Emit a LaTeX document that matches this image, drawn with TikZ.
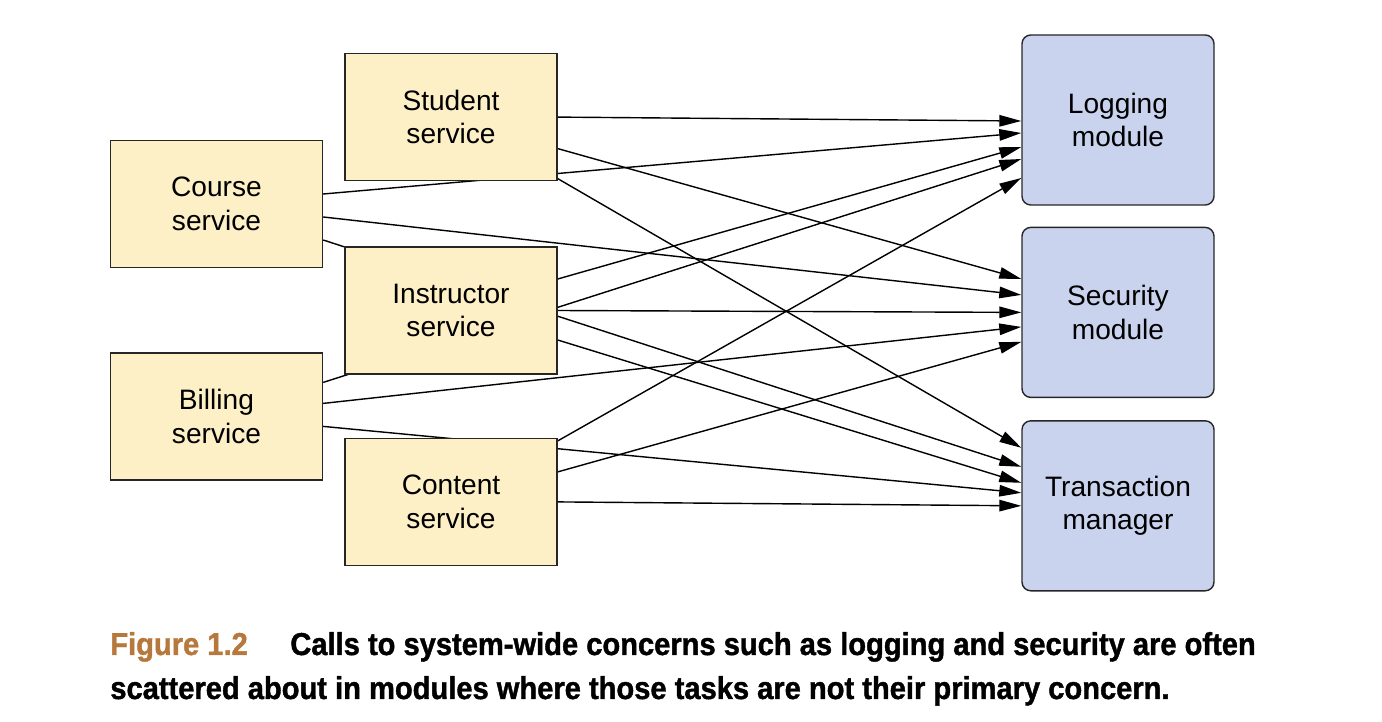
\documentclass[tikz,border=0pt]{standalone}
\usepackage{fontspec}
\setmainfont{Liberation Sans}
\newfontfamily\capfont[FakeStretch=0.92,BoldFeatures={FakeBold=1.3}]{Liberation Sans}
\usepackage{tikz}
\usetikzlibrary{arrows.meta,positioning,backgrounds}
\definecolor{svcyellow}{HTML}{FDEFC6}
\definecolor{modblue}{HTML}{C9D3EE}
\definecolor{figbrown}{HTML}{B6783C}

\begin{document}
\begin{tikzpicture}[
  svc/.style={draw=black!85,rectangle,line width=0.8pt,fill=svcyellow,
              minimum width=4.24cm,minimum height=2.54cm,align=center,
              font=\fontsize{16}{19}\selectfont},
  modl/.style={draw=black!85,rectangle,rounded corners=5pt,line width=0.8pt,fill=modblue,
               minimum width=3.84cm,minimum height=3.4cm,align=center,
               font=\fontsize{16}{19}\selectfont},
  call/.style={draw,line width=0.8pt,-{Triangle[length=0.44cm,width=0.23cm]}},
  capline/.style={anchor=base west,inner sep=0pt,font=\capfont\bfseries\fontsize{18}{21}\selectfont},
]
  \useasboundingbox (0,0) rectangle (27.64,-14.44);

  % Services
  \node[svc] (ins) at (9.02,-6.21) {Instructor\\service};
  \node[svc,above=1.3cm of ins]  (stu) {Student\\service};
  \node[svc,below=1.26cm of ins] (cnt) {Content\\service};
  \node[svc] (crs) at (4.33,-4.08) {Course\\service};
  \node[svc,below=1.68cm of crs] (bil) {Billing\\service};

  % Modules
  \node[modl] (log) at (22.36,-2.40) {Logging\\module};
  \node[modl,below=0.42cm of log] (sec) {Security\\module};
  \node[modl,below=0.44cm of sec] (trn) {Transaction\\manager};

  % Calls (behind the boxes)
  \begin{scope}[on background layer]
    \draw[call] (stu.east) -- ([yshift=-0.02cm]log.west);
    \draw[call] ([yshift=-0.63cm]stu.east) -- ([yshift=0.67cm]sec.west);
    \draw[call] ([yshift=-1.23cm]stu.east) -- ([yshift=1.16cm]trn.west);

    \draw[call] ([yshift=0.2cm]crs.east) -- ([yshift=-0.26cm]log.west);
    \draw[call] ([yshift=-0.26cm]crs.east) -- ([yshift=0.35cm]sec.west);
    \draw[call] ([yshift=-0.72cm]crs.east) -- ([yshift=0.78cm]trn.west);

    \draw[call] ([yshift=0.63cm]ins.east) -- ([yshift=-0.54cm]log.west);
    \draw[call] (ins.east) -- (sec.west);
    \draw[call] ([yshift=-0.59cm]ins.east) -- ([yshift=0.46cm]trn.west);

    \draw[call] ([yshift=0.68cm]bil.east) -- ([yshift=-0.78cm]log.west);
    \draw[call] ([yshift=0.26cm]bil.east) -- ([yshift=-0.29cm]sec.west);
    \draw[call] ([yshift=-0.2cm]bil.east) -- ([yshift=0.26cm]trn.west);

    \draw[call] ([yshift=1.22cm]cnt.east) -- ([yshift=-1.16cm]log.west);
    \draw[call] ([yshift=0.6cm]cnt.east) -- ([yshift=-0.59cm]sec.west);
    \draw[call] (cnt.east) -- (trn.west);
  \end{scope}

  % Caption
  \node[capline,text=figbrown] (fig) at (2.2,-13.1) {Figure 1.2};
  \node[capline] (cap1) at (5.8,-13.1) {Calls to system-wide concerns such as logging and security are often};
  \node[capline] (cap2) at (2.2,-13.98) {scattered about in modules where those tasks are not their primary concern.};
\end{tikzpicture}
\end{document}
